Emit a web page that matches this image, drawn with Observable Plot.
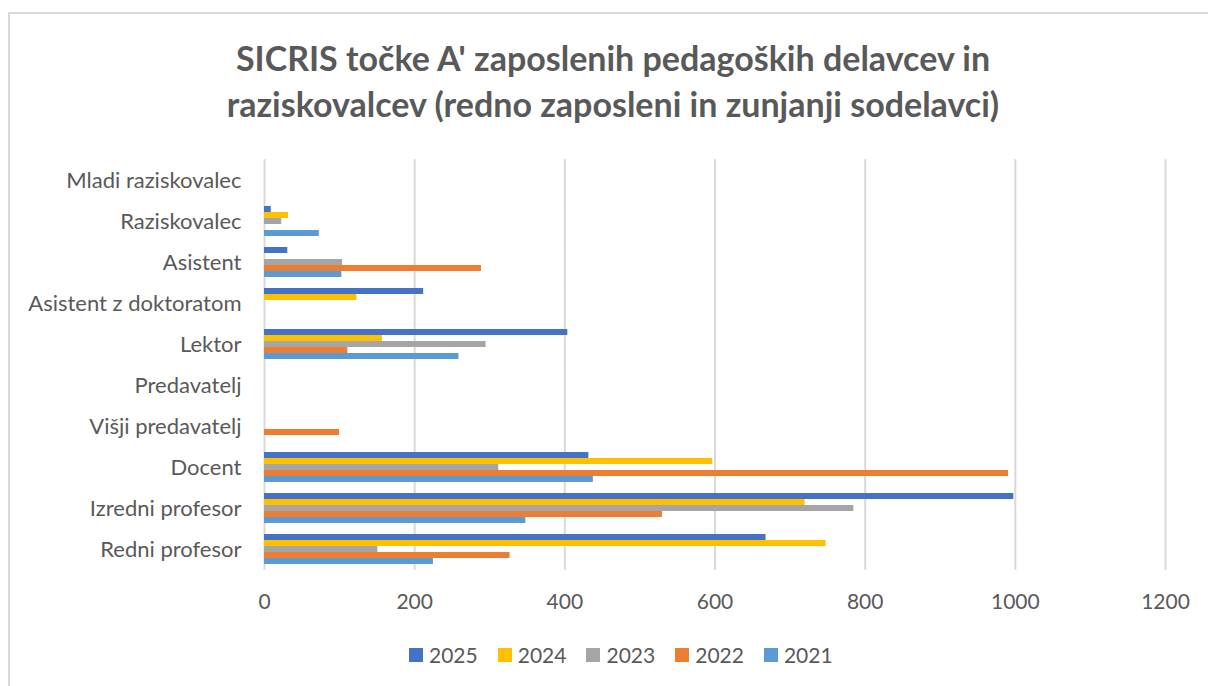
<!DOCTYPE html>
<html>
<head>
<meta charset="utf-8">
<script src="https://cdn.jsdelivr.net/npm/d3@7"></script>
<script src="https://cdn.jsdelivr.net/npm/@observablehq/plot@0.6"></script>
<style>
  html, body { margin: 0; padding: 0; background: #fff; }
  #wrap { position: relative; width: 1208px; height: 686px; overflow: hidden; font-family: Lato, "Open Sans", sans-serif; color: #595959; }
  #frame { position: absolute; left: 8px; top: 12px; width: 1400px; height: 800px; border-left: 2px solid #d9d9d9; border-top: 2px solid #d9d9d9; }
  #title { position: absolute; left: 18px; top: 35px; width: 1190px; text-align: center; font-weight: 700; font-size: 34px; line-height: 46px; color: #595959; }
  #chart { position: absolute; left: 0; top: 138px; }
  #legend { position: absolute; left: 409px; top: 644px; display: flex; gap: 20px; font-size: 21px; line-height: 22px; }
  .item { display: flex; align-items: center; gap: 6px; }
  .sw { width: 14px; height: 14px; display: inline-block; }
</style>
</head>
<body>
<div id="wrap">
  <div id="frame"></div>
  <div id="title">SICRIS točke A' zaposlenih pedagoških delavcev in<br>raziskovalcev (redno zaposleni in zunjanji sodelavci)</div>
  <div id="chart"></div>
  <div id="legend"></div>
</div>
<script>
const categories = ["Redni profesor","Izredni profesor","Docent","Višji predavatelj","Predavatelj","Lektor","Asistent z doktoratom","Asistent","Raziskovalec","Mladi raziskovalec"];
const years = ["2025","2024","2023","2022","2021"];
const colors = ["#4472C4","#FFC000","#A5A5A5","#ED7D31","#5B9BD5"];
const v2025 = [668, 998, 432, 0, 0, 404, 212, 31, 9, 0];
const v2024 = [748, 720, 597, 0, 0, 157, 123, 0, 32, 0];
const v2023 = [151, 785, 312, 0, 0, 295, 0, 104, 23, 0];
const v2022 = [327, 530, 991, 100, 0, 111, 0, 289, 0, 0];
const v2021 = [225, 348, 438, 0, 0, 259, 0, 103, 73, 0];
const xTicks = [0, 200, 400, 600, 800, 1000, 1200];

const series = [v2025, v2024, v2023, v2022, v2021];
const data = categories.flatMap((c, i) => years.map((y, j) => ({category: c, year: y, value: series[j][i]})));

const chart = Plot.plot({
  width: 1208,
  height: 492,
  marginTop: 20,
  marginBottom: 59,
  marginLeft: 264,
  marginRight: 43,
  style: {fontFamily: "Lato, 'Open Sans', sans-serif", fontSize: "21px", color: "#595959", background: "transparent"},
  x: {domain: [0, 1200]},
  y: {domain: years, paddingInner: 0, paddingOuter: 0, axis: null},
  fy: {domain: categories.slice().reverse(), paddingInner: 0.27, paddingOuter: 0.135, axis: null},
  color: {domain: years, range: colors},
  marks: [
    Plot.gridX(xTicks, {stroke: "#d9d9d9", strokeOpacity: 1, strokeWidth: 2, insetTop: -5.8, insetBottom: -5.8}),
    Plot.barX(data, {filter: d => d.value > 0, x: "value", y: "year", fy: "category", fill: "year"}),
    Plot.axisX(xTicks, {anchor: "bottom", tickSize: 0, tickPadding: 30, fontSize: 21, label: null, tickFormat: d => String(d)}),
    Plot.axisFy({anchor: "left", tickSize: 0, tickPadding: 23, fontSize: 22, label: null})
  ]
});
document.getElementById("chart").appendChild(chart);

const legend = document.getElementById("legend");
years.forEach((y, i) => {
  const item = document.createElement("div");
  item.className = "item";
  const sw = document.createElement("span");
  sw.className = "sw";
  sw.style.background = colors[i];
  const t = document.createElement("span");
  t.textContent = y;
  item.appendChild(sw);
  item.appendChild(t);
  legend.appendChild(item);
});
</script>
</body>
</html>
